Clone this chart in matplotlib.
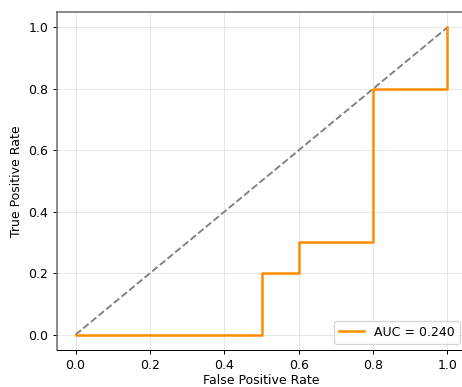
import matplotlib
matplotlib.use('Agg')
import matplotlib.pyplot as plt

fpr = [0.0, 0.5, 0.5, 0.6, 0.6, 0.8, 0.8, 1.0, 1.0]
tpr = [0.0, 0.0, 0.2, 0.2, 0.3, 0.3, 0.8, 0.8, 1.0]
auc_label = 'AUC = 0.240'

fig = plt.figure(figsize=(462 / 90, 387 / 90), dpi=90)
ax = fig.add_axes([0.1234, 0.0956, 0.8853, 0.8734])

ax.plot([0, 1], [0, 1], linestyle='--', color='gray', lw=1.5)
ax.plot(fpr, tpr, color='darkorange', lw=2, label=auc_label)

ax.set_xlim(-0.05, 1.05)
ax.set_ylim(-0.05, 1.05)
ax.set_xlabel('False Positive Rate', labelpad=2)
ax.set_ylabel('True Positive Rate')
ax.grid(True, alpha=0.3)
ax.legend(loc='lower right')

for s in ['top', 'left']:
    ax.spines[s].set_color('#666666')
    ax.spines[s].set_linewidth(1.2)

fig.savefig('out.png', dpi=90)
